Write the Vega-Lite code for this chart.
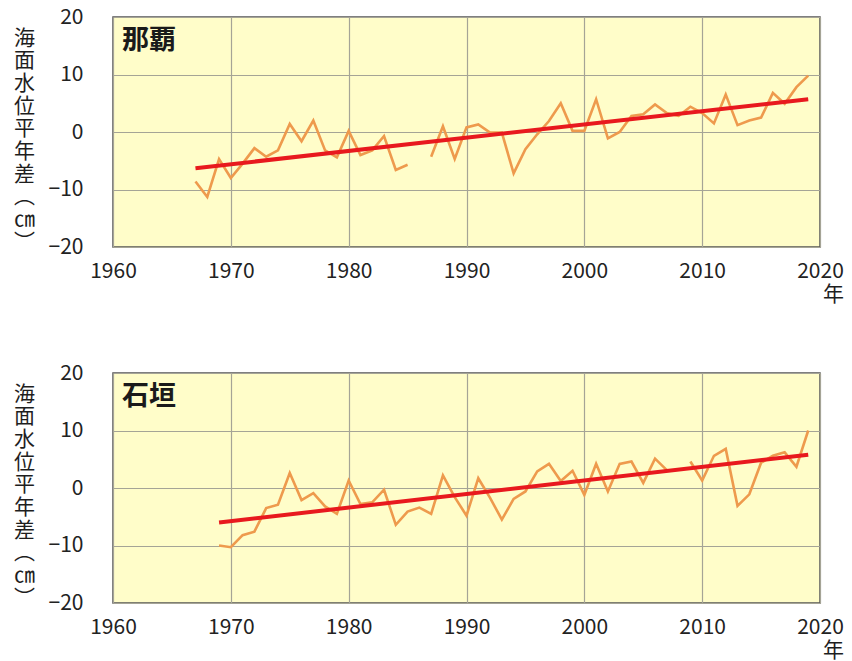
{
  "$schema": "https://vega.github.io/schema/vega-lite/v6.json",
  "background": "white",
  "padding": {"left": 12, "top": 5, "right": 5, "bottom": 5},
  "spacing": 56,
  "config": {
    "font": "Noto Sans CJK JP",
    "view": {"fill": "#FFFDC9", "stroke": "#555555", "strokeWidth": 1.5},
    "axis": {
      "grid": true,
      "gridColor": "#A5A496",
      "gridWidth": 1.2,
      "ticks": false,
      "domain": false,
      "labelFont": "Noto Sans CJK JP",
      "labelFontSize": 21,
      "labelColor": "#222222",
      "titleFont": "Noto Sans CJK JP",
      "titleFontWeight": "normal",
      "titleColor": "#1e1e1e"
    },
    "title": {"font": "Noto Sans CJK JP", "fontSize": 27, "fontWeight": "bold", "color": "#1a1a1a"}
  },
  "datasets": {
    "obs": [
      {"station": "那覇", "year": 1967, "value": -8.6},
      {"station": "那覇", "year": 1968, "value": -11.3},
      {"station": "那覇", "year": 1969, "value": -4.7},
      {"station": "那覇", "year": 1970, "value": -8.0},
      {"station": "那覇", "year": 1971, "value": -5.5},
      {"station": "那覇", "year": 1972, "value": -2.8},
      {"station": "那覇", "year": 1973, "value": -4.3},
      {"station": "那覇", "year": 1974, "value": -3.2},
      {"station": "那覇", "year": 1975, "value": 1.4},
      {"station": "那覇", "year": 1976, "value": -1.6},
      {"station": "那覇", "year": 1977, "value": 2.0},
      {"station": "那覇", "year": 1978, "value": -3.2},
      {"station": "那覇", "year": 1979, "value": -4.4},
      {"station": "那覇", "year": 1980, "value": 0.2},
      {"station": "那覇", "year": 1981, "value": -4.0},
      {"station": "那覇", "year": 1982, "value": -3.2},
      {"station": "那覇", "year": 1983, "value": -0.7},
      {"station": "那覇", "year": 1984, "value": -6.6},
      {"station": "那覇", "year": 1985, "value": -5.7},
      {"station": "那覇", "year": 1986, "value": null},
      {"station": "那覇", "year": 1987, "value": -4.3},
      {"station": "那覇", "year": 1988, "value": 1.0},
      {"station": "那覇", "year": 1989, "value": -4.7},
      {"station": "那覇", "year": 1990, "value": 0.8},
      {"station": "那覇", "year": 1991, "value": 1.3},
      {"station": "那覇", "year": 1992, "value": -0.1},
      {"station": "那覇", "year": 1993, "value": -0.1},
      {"station": "那覇", "year": 1994, "value": -7.2},
      {"station": "那覇", "year": 1995, "value": -3.0},
      {"station": "那覇", "year": 1996, "value": -0.4},
      {"station": "那覇", "year": 1997, "value": 1.9},
      {"station": "那覇", "year": 1998, "value": 5.0},
      {"station": "那覇", "year": 1999, "value": 0.2},
      {"station": "那覇", "year": 2000, "value": 0.2},
      {"station": "那覇", "year": 2001, "value": 5.7},
      {"station": "那覇", "year": 2002, "value": -1.1},
      {"station": "那覇", "year": 2003, "value": 0.0},
      {"station": "那覇", "year": 2004, "value": 2.8},
      {"station": "那覇", "year": 2005, "value": 3.1},
      {"station": "那覇", "year": 2006, "value": 4.8},
      {"station": "那覇", "year": 2007, "value": 3.3},
      {"station": "那覇", "year": 2008, "value": 2.8},
      {"station": "那覇", "year": 2009, "value": 4.4},
      {"station": "那覇", "year": 2010, "value": 3.3},
      {"station": "那覇", "year": 2011, "value": 1.5},
      {"station": "那覇", "year": 2012, "value": 6.5},
      {"station": "那覇", "year": 2013, "value": 1.2},
      {"station": "那覇", "year": 2014, "value": 2.0},
      {"station": "那覇", "year": 2015, "value": 2.5},
      {"station": "那覇", "year": 2016, "value": 6.8},
      {"station": "那覇", "year": 2017, "value": 4.9},
      {"station": "那覇", "year": 2018, "value": 7.8},
      {"station": "那覇", "year": 2019, "value": 9.8},
      {"station": "石垣", "year": 1969, "value": -10.0},
      {"station": "石垣", "year": 1970, "value": -10.3},
      {"station": "石垣", "year": 1971, "value": -8.2},
      {"station": "石垣", "year": 1972, "value": -7.6},
      {"station": "石垣", "year": 1973, "value": -3.5},
      {"station": "石垣", "year": 1974, "value": -2.9},
      {"station": "石垣", "year": 1975, "value": 2.6},
      {"station": "石垣", "year": 1976, "value": -2.1},
      {"station": "石垣", "year": 1977, "value": -0.9},
      {"station": "石垣", "year": 1978, "value": -3.2},
      {"station": "石垣", "year": 1979, "value": -4.5},
      {"station": "石垣", "year": 1980, "value": 1.3},
      {"station": "石垣", "year": 1981, "value": -2.8},
      {"station": "石垣", "year": 1982, "value": -2.5},
      {"station": "石垣", "year": 1983, "value": -0.3},
      {"station": "石垣", "year": 1984, "value": -6.4},
      {"station": "石垣", "year": 1985, "value": -4.1},
      {"station": "石垣", "year": 1986, "value": -3.4},
      {"station": "石垣", "year": 1987, "value": -4.5},
      {"station": "石垣", "year": 1988, "value": 2.2},
      {"station": "石垣", "year": 1989, "value": -1.6},
      {"station": "石垣", "year": 1990, "value": -4.8},
      {"station": "石垣", "year": 1991, "value": 1.7},
      {"station": "石垣", "year": 1992, "value": -1.7},
      {"station": "石垣", "year": 1993, "value": -5.5},
      {"station": "石垣", "year": 1994, "value": -1.9},
      {"station": "石垣", "year": 1995, "value": -0.6},
      {"station": "石垣", "year": 1996, "value": 2.9},
      {"station": "石垣", "year": 1997, "value": 4.2},
      {"station": "石垣", "year": 1998, "value": 1.2},
      {"station": "石垣", "year": 1999, "value": 3.0},
      {"station": "石垣", "year": 2000, "value": -1.2},
      {"station": "石垣", "year": 2001, "value": 4.2},
      {"station": "石垣", "year": 2002, "value": -0.6},
      {"station": "石垣", "year": 2003, "value": 4.2},
      {"station": "石垣", "year": 2004, "value": 4.6},
      {"station": "石垣", "year": 2005, "value": 0.9},
      {"station": "石垣", "year": 2006, "value": 5.1},
      {"station": "石垣", "year": 2007, "value": 3.1},
      {"station": "石垣", "year": 2008, "value": null},
      {"station": "石垣", "year": 2009, "value": 4.6},
      {"station": "石垣", "year": 2010, "value": 1.3},
      {"station": "石垣", "year": 2011, "value": 5.6},
      {"station": "石垣", "year": 2012, "value": 6.8},
      {"station": "石垣", "year": 2013, "value": -3.1},
      {"station": "石垣", "year": 2014, "value": -1.1},
      {"station": "石垣", "year": 2015, "value": 4.4},
      {"station": "石垣", "year": 2016, "value": 5.6},
      {"station": "石垣", "year": 2017, "value": 6.2},
      {"station": "石垣", "year": 2018, "value": 3.7},
      {"station": "石垣", "year": 2019, "value": 10.0}
    ],
    "trend": [
      {"station": "那覇", "year": 1967, "value": -6.3},
      {"station": "那覇", "year": 2019, "value": 5.7},
      {"station": "石垣", "year": 1969, "value": -6.0},
      {"station": "石垣", "year": 2019, "value": 5.8}
    ]
  },
  "vconcat": [
    {
      "width": 707,
      "height": 230,
      "title": {"text": "那覇", "anchor": "start", "frame": "group", "orient": "top", "baseline": "top", "offset": -49, "dx": 9},
      "layer": [
        {
          "data": {"name": "obs"},
          "transform": [{"filter": "datum.station === '那覇'"}],
          "mark": {"type": "line", "color": "#EE9A4D", "strokeWidth": 2.6},
          "encoding": {
            "x": {"field": "year", "type": "quantitative", "scale": {"domain": [1960, 2020], "nice": false}, "axis": {"values": [1960, 1970, 1980, 1990, 2000, 2010, 2020], "format": "d", "labelFlush": false, "labelPadding": 13, "title": "年", "titleFontSize": 21, "titleX": 720, "titleY": 47, "titleAlign": "center", "titleBaseline": "middle"}},
            "y": {"field": "value", "type": "quantitative", "scale": {"domain": [-20, 20], "nice": false}, "axis": {"values": [-20, -10, 0, 10, 20], "labelPadding": 30, "title": ["海", "面", "水", "位", "平", "年", "差", "︵", "㎝", "︶"], "titleAngle": 0, "titleFontSize": 21, "titleLineHeight": 22.7, "titleX": -89, "titleY": 21, "titleAlign": "center", "titleBaseline": "middle"}}
          }
        },
        {
          "data": {"name": "trend"},
          "transform": [{"filter": "datum.station === '那覇'"}],
          "mark": {"type": "line", "color": "#E8191E", "strokeWidth": 4},
          "encoding": {
            "x": {"field": "year", "type": "quantitative"},
            "y": {"field": "value", "type": "quantitative"}
          }
        }
      ]
    },
    {
      "width": 707,
      "height": 230,
      "title": {"text": "石垣", "anchor": "start", "frame": "group", "orient": "top", "baseline": "top", "offset": -49, "dx": 9},
      "layer": [
        {
          "data": {"name": "obs"},
          "transform": [{"filter": "datum.station === '石垣'"}],
          "mark": {"type": "line", "color": "#EE9A4D", "strokeWidth": 2.6},
          "encoding": {
            "x": {"field": "year", "type": "quantitative", "scale": {"domain": [1960, 2020], "nice": false}, "axis": {"values": [1960, 1970, 1980, 1990, 2000, 2010, 2020], "format": "d", "labelFlush": false, "labelPadding": 13, "title": "年", "titleFontSize": 21, "titleX": 720, "titleY": 47, "titleAlign": "center", "titleBaseline": "middle"}},
            "y": {"field": "value", "type": "quantitative", "scale": {"domain": [-20, 20], "nice": false}, "axis": {"values": [-20, -10, 0, 10, 20], "labelPadding": 30, "title": ["海", "面", "水", "位", "平", "年", "差", "︵", "㎝", "︶"], "titleAngle": 0, "titleFontSize": 21, "titleLineHeight": 22.7, "titleX": -89, "titleY": 21, "titleAlign": "center", "titleBaseline": "middle"}}
          }
        },
        {
          "data": {"name": "trend"},
          "transform": [{"filter": "datum.station === '石垣'"}],
          "mark": {"type": "line", "color": "#E8191E", "strokeWidth": 4},
          "encoding": {
            "x": {"field": "year", "type": "quantitative"},
            "y": {"field": "value", "type": "quantitative"}
          }
        }
      ]
    }
  ]
}
